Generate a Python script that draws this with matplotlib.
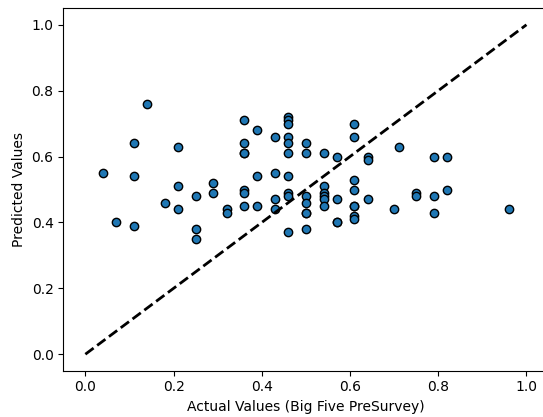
import matplotlib
matplotlib.use("Agg")
import matplotlib.pyplot as plt

actual = [0.04, 0.07, 0.11, 0.11, 0.11, 0.14, 0.18, 0.21, 0.21, 0.21,
          0.25, 0.25, 0.25, 0.29, 0.29, 0.32, 0.32,
          0.36, 0.36, 0.36, 0.36, 0.36, 0.36, 0.36,
          0.39, 0.39, 0.39, 0.43, 0.43, 0.43, 0.43,
          0.46, 0.46, 0.46, 0.46, 0.46, 0.46, 0.46, 0.46, 0.46, 0.46,
          0.50, 0.50, 0.50, 0.50, 0.50, 0.50, 0.50,
          0.54, 0.54, 0.54, 0.54, 0.54, 0.54,
          0.57, 0.57, 0.57, 0.57,
          0.61, 0.61, 0.61, 0.61, 0.61, 0.61, 0.61, 0.61,
          0.64, 0.64, 0.64, 0.70, 0.71, 0.75, 0.75,
          0.79, 0.79, 0.79, 0.82, 0.82, 0.96]
predicted = [0.55, 0.40, 0.64, 0.54, 0.39, 0.76, 0.46, 0.63, 0.51, 0.44,
             0.48, 0.38, 0.35, 0.52, 0.49, 0.44, 0.43,
             0.71, 0.64, 0.61, 0.61, 0.50, 0.49, 0.45,
             0.68, 0.54, 0.45, 0.66, 0.55, 0.47, 0.44,
             0.72, 0.71, 0.70, 0.66, 0.64, 0.61, 0.54, 0.49, 0.48, 0.37,
             0.64, 0.61, 0.48, 0.46, 0.43, 0.43, 0.38,
             0.61, 0.51, 0.49, 0.48, 0.47, 0.45,
             0.60, 0.47, 0.40, 0.40,
             0.70, 0.66, 0.53, 0.50, 0.45, 0.45, 0.42, 0.41,
             0.60, 0.59, 0.47, 0.44, 0.63, 0.49, 0.48,
             0.60, 0.48, 0.43, 0.60, 0.50, 0.44]
ideal = [0.0, 1.0]

W, H, DPI = 543, 417, 100
left, right, top, bottom = 63.3, 548.5, 8.3, 370.7
fig = plt.figure(figsize=(W / DPI, H / DPI), dpi=DPI)
ax = fig.add_axes([left / W, (H - bottom) / H, (right - left) / W, (bottom - top) / H])
ax.scatter(actual, predicted, color="#1f77b4", edgecolors="k", s=36, linewidths=1, zorder=2)
ax.plot(ideal, ideal, "k--", lw=2, zorder=3)
ax.set_xlim(-0.05, 1.05)
ax.set_ylim(-0.05, 1.05)
ax.set_xticks([0.0, 0.2, 0.4, 0.6, 0.8, 1.0])
ax.set_yticks([0.0, 0.2, 0.4, 0.6, 0.8, 1.0])
ax.set_xlabel("Actual Values (Big Five PreSurvey)")
ax.set_ylabel("Predicted Values")
fig.savefig("out.png", dpi=DPI)
